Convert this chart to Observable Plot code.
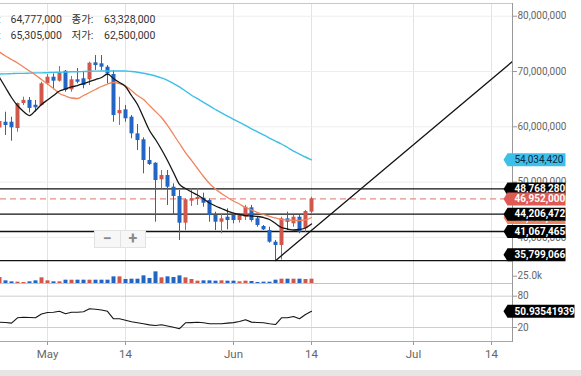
<!DOCTYPE html>
<html><head><meta charset="utf-8">
<script src="https://cdn.jsdelivr.net/npm/d3@7"></script>
<script src="https://cdn.jsdelivr.net/npm/@observablehq/plot@0.6"></script>
<style>
html,body{margin:0;padding:0;background:#fff;}
#wrap{position:relative;width:581px;height:376px;overflow:hidden;background:#fff;font-family:Roboto,"Noto Sans CJK KR",sans-serif;}
#wrap svg{position:absolute;left:0;}
.lg{position:absolute;font-size:10.5px;color:#333;line-height:12px;white-space:nowrap;}
#zoomctl{position:absolute;left:94px;top:230px;width:52px;height:18px;background:#f7f7f7;border:1px solid #e2e2e2;box-sizing:border-box;display:flex;}
#zoomctl div{flex:1;text-align:center;color:#8a8a8a;font-size:16px;font-weight:bold;line-height:15px;}
#zoomctl div:first-child{border-right:1px solid #e2e2e2;}
#band{position:absolute;left:0;top:370px;width:581px;height:6px;background:#e6e6e6;}
</style></head>
<body><div id="wrap"></div>
<script>
// ---------- data ----------
const dates = ["2021-04-23","2021-04-24","2021-04-25","2021-04-26","2021-04-27","2021-04-28","2021-04-29","2021-04-30",
"2021-05-01","2021-05-02","2021-05-03","2021-05-04","2021-05-05","2021-05-06","2021-05-07","2021-05-08","2021-05-09","2021-05-10",
"2021-05-11","2021-05-12","2021-05-13","2021-05-14","2021-05-15","2021-05-16","2021-05-17","2021-05-18","2021-05-19","2021-05-20",
"2021-05-21","2021-05-22","2021-05-23","2021-05-24","2021-05-25","2021-05-26","2021-05-27","2021-05-28","2021-05-29","2021-05-30",
"2021-05-31","2021-06-01","2021-06-02","2021-06-03","2021-06-04","2021-06-05","2021-06-06","2021-06-07","2021-06-08","2021-06-09",
"2021-06-10","2021-06-11","2021-06-12","2021-06-13","2021-06-14"];
// prices in millions of KRW
const openM  = [59.78,60.83,60.83,59.69,64.21,64.777,63.90,63.85,67.78,68.97,68.25,70.05,66.69,68.50,68.68,68.50,71.57,71.39,70.78,69.46,62.35,63.07,61.74,58.73,57.65,53.91,53.42,50.42,51.19,49.08,47.40,42.57,46.55,46.85,47.09,46.67,43.96,42.75,43.65,43.96,43.06,43.65,45.35,43.36,41.97,41.25,39.13,38.54,43.36,42.46,43.65,41.56,44.56];
const highM  = [61.86,62.64,61.74,64.30,65.35,65.305,64.76,68.07,69.46,69.58,70.90,70.18,69.10,70.54,69.87,71.68,72.89,72.89,71.08,70.18,65.35,63.85,62.04,60.42,58.01,56.31,53.50,52.10,52.10,49.69,48.48,46.98,48.79,48.84,48.00,46.98,44.56,44.27,45.17,44.27,44.30,45.77,45.77,43.65,42.15,41.84,39.44,43.65,44.56,43.96,43.96,44.86,47.27];
const lowM   = [59.15,58.43,57.40,59.02,63.85,62.50,62.64,63.70,67.47,66.69,68.07,66.26,66.26,67.78,66.87,67.47,70.18,70.18,67.78,60.83,60.24,60.83,57.83,55.71,51.50,53.00,42.75,48.79,45.77,43.96,39.44,41.25,45.59,45.77,45.46,42.75,41.25,40.65,41.37,42.46,42.60,43.06,42.75,41.84,41.25,38.95,35.799066,35.90,41.25,41.84,40.65,40.94,44.27];
const closeM = [60.96,60.24,59.82,64.21,64.78,63.328,63.44,67.78,68.97,68.25,69.69,66.56,68.50,68.07,67.47,71.50,71.08,70.78,69.58,62.04,62.95,61.45,58.73,57.52,53.91,53.18,50.29,51.19,49.08,47.40,42.57,46.80,46.98,47.22,46.18,43.96,42.75,43.36,43.06,43.06,43.96,45.46,43.06,42.15,41.37,39.13,38.54,43.36,42.75,43.65,40.94,44.68,46.952];
const volumeK = [20.5,9.1,5.7,4.6,3.4,5.7,9.1,19.4,9.1,5.7,5.7,11.4,11.4,11.4,11.4,11.4,11.4,11.4,11.4,22.8,22.8,13.7,14.8,14.8,26.2,17.1,39.9,19.4,22.8,20.5,26.2,19.4,13.7,8.0,9.1,9.1,8.0,9.1,8.0,8.0,5.7,8.0,6.8,3.4,4.6,4.6,11.4,14.8,14.8,14.8,14.8,13.7,14.8];
const maShortM = [68.92,67.11,65.30,63.85,62.77,62.04,62.95,64.03,64.85,65.66,66.47,66.84,67.20,67.47,67.83,68.19,68.55,68.92,69.55,68.73,68.01,67.29,65.66,64.03,61.68,59.33,57.70,55.90,53.91,51.74,49.57,48.84,48.21,47.67,46.94,46.22,45.68,45.23,44.77,44.41,44.14,43.96,43.87,43.78,43.60,43.24,42.51,41.79,41.52,41.34,41.43,41.70,42.42];
const maMidM = [73.53,72.80,72.17,71.54,70.81,70.09,69.37,68.55,67.74,66.93,66.02,65.57,65.21,65.12,65.66,66.20,66.75,67.29,67.74,68.01,67.83,67.38,66.56,65.66,64.94,63.85,62.77,61.68,60.24,58.61,56.98,55.35,53.91,52.46,51.01,49.75,48.75,47.94,47.22,46.58,46.04,45.41,44.96,44.50,44.14,43.78,43.51,43.24,43.15,43.06,43.06,43.15,43.60];
const maLongM = [69.55,69.58,69.62,69.66,69.67,69.71,69.75,69.76,69.80,69.84,69.87,69.91,69.95,69.96,70.00,70.04,70.07,70.09,70.09,70.09,70.09,70.09,70.00,69.87,69.69,69.46,69.19,68.84,68.41,67.83,67.22,66.47,65.71,65.08,64.43,63.78,63.13,62.50,61.92,61.36,60.78,60.24,59.64,59.10,58.52,57.97,57.43,56.89,56.26,55.62,55.08,54.54,54.03];
const rsi = [30.2,29.6,28.4,38.6,39.7,39.2,38.6,45.9,48.7,49.3,51.2,46.2,49.1,49.3,50.3,55.8,54.9,53.5,51.0,36.7,36.7,33.8,30.9,29.0,27.1,25.0,23.8,25.4,22.9,20.6,17.7,29.0,29.4,30.0,29.2,27.3,27.1,27.3,28.4,29.4,31.5,34.8,30.3,29.6,29.0,27.1,25.7,38.6,38.6,41.1,36.7,44.9,50.94];
const priceTicks = [40000000,50000000,60000000,70000000,80000000];
const levelLines = [41067465,44206472,48768280];
const lowLevel = [35799066];
const lastPrice = [46952000];
const maLongLast = [54034420];
const maMidLast = [43600000];
const rsiLast = [50.93541939];
const volumeTicks = [25000];
const rsiTicks = [20,80];
const tickDates = ["2021-05-01","2021-05-14","2021-06-01","2021-06-14","2021-07-01","2021-07-14"];
const tickLabels = ["May","14","Jun","14","Jul","14"];
const trendDates = ["2021-06-08","2021-07-18"];
const trendValues = [35799066,72280000];
const legendLabels = ["시가:","종가:","고가:","저가:"];
const legendValues = [64777000,63328000,65305000,62500000];

// ---------- build ----------
const parse = d3.utcParse("%Y-%m-%d");
const fmt = d3.format(",");
const M = 1e6;
const rows = dates.map((d,i)=>({date:parse(d),open:openM[i]*M,high:highM[i]*M,low:lowM[i]*M,close:closeM[i]*M,
  volume:volumeK[i]*1000,maS:maShortM[i]*M,maM:maMidM[i]*M,maL:maLongM[i]*M,rsi:rsi[i]}));
const ticks = tickDates.map(parse);
const tickMap = new Map(ticks.map((t,i)=>[+t,tickLabels[i]]));
const trend = trendDates.map((d,i)=>({date:parse(d),value:trendValues[i]}));
const up = d => d.close >= d.open;
const RED = "#d0574b", BLUE = "#2265c3";
const xDomain = [new Date(Date.UTC(2021,3,23,4)), new Date(Date.UTC(2021,6,17,12))];
const W = 581, MR = 69;
const baseStyle = {background:"transparent",overflow:"visible",fontFamily:"Roboto, sans-serif",fontSize:"10px",color:"#666"};

const boxSym = (w) => ({draw(ctx){ctx.moveTo(-9,0);ctx.lineTo(-5,-6.5);ctx.lineTo(w,-6.5);ctx.lineTo(w,6.5);ctx.lineTo(-5,6.5);ctx.closePath();}});
const label = (vals, fill, color, weight, w, dy=0, fmtFn=fmt) => [
  Plot.dot(vals, {y:d=>d, frameAnchor:"right", symbol:boxSym(w), r:5, fill, stroke:"none", dy}),
  Plot.text(vals, {y:d=>d, frameAnchor:"right", text:fmtFn, dx:2, dy, textAnchor:"start", fill:color, fontWeight:weight, fontSize:10})
];

const main = Plot.plot({
  width:W, height:263, marginTop:3, marginBottom:0, marginLeft:0, marginRight:MR,
  style:baseStyle,
  x:{type:"utc", domain:xDomain, axis:null, label:null},
  y:{domain:[35.28e6,82.3e6], axis:null, label:null},
  marks:[
    Plot.ruleX(ticks, {stroke:"#e3e3e3"}),
    Plot.ruleY(priceTicks, {stroke:"#ededed"}),
    Plot.axisY(priceTicks, {anchor:"right", label:null, tickFormat:fmt, tickSize:4, tickPadding:1, fontSize:10, stroke:"#999"}),
    Plot.ruleY(levelLines.concat(lowLevel), {stroke:"#111", strokeWidth:1.3}),
    Plot.ruleY(lastPrice, {stroke:"#e3908b", strokeWidth:1.2, strokeDasharray:"6,4"}),
    Plot.ruleX(rows, {filter:up, x:"date", y1:"low", y2:"high", stroke:RED, strokeWidth:1, clip:true}),
    Plot.ruleX(rows, {filter:d=>!up(d), x:"date", y1:"low", y2:"high", stroke:BLUE, strokeWidth:1, clip:true}),
    Plot.ruleX(rows, {filter:up, x:"date", y1:"open", y2:"close", stroke:RED, strokeWidth:4, clip:true}),
    Plot.ruleX(rows, {filter:d=>!up(d), x:"date", y1:"open", y2:"close", stroke:BLUE, strokeWidth:4, clip:true}),
    Plot.lineY(rows, {x:"date", y:"maL", stroke:"#3dbfe6", strokeWidth:1.4, curve:"monotone-x", clip:true}),
    Plot.lineY(rows, {x:"date", y:"maM", stroke:"#f0845c", strokeWidth:1.3, curve:"monotone-x", clip:true}),
    Plot.lineY(rows, {x:"date", y:"maS", stroke:"#151515", strokeWidth:1.3, curve:"monotone-x", clip:true}),
    Plot.line(trend, {x:"date", y:"value", stroke:"#151515", strokeWidth:1.3, clip:true}),
    Plot.frame({anchor:"top", stroke:"#c8c8c8"}),
    Plot.frame({anchor:"right", stroke:"#999"}),
    ...label(maLongLast, "#3cc0ea", "#0c2a44", "normal", 53),
    ...label(maMidLast, "#f0845c", "#fff", "bold", 53),
    ...label(lowLevel, "#000", "#fff", "bold", 53, -6),
    ...label(levelLines, "#000", "#fff", "bold", 53),
    ...label(lastPrice, "#de5a52", "#fff", "bold", 53)
  ]
});
main.style.top = "0px";

const vol = Plot.plot({
  width:W, height:20, marginTop:0, marginBottom:0, marginLeft:0, marginRight:MR,
  style:baseStyle,
  x:{type:"utc", domain:xDomain, axis:null, label:null},
  y:{domain:[0,68500], axis:null, label:null},
  marks:[
    Plot.ruleX(ticks, {stroke:"#e3e3e3"}),
    Plot.ruleX(rows, {filter:up, x:"date", y1:0, y2:"volume", stroke:RED, strokeWidth:4, clip:true}),
    Plot.ruleX(rows, {filter:d=>!up(d), x:"date", y1:0, y2:"volume", stroke:BLUE, strokeWidth:4, clip:true}),
    Plot.axisY(volumeTicks, {anchor:"right", label:null, tickFormat:d=>(d/1000).toFixed(1)+"k", tickSize:4, tickPadding:1, fontSize:10, stroke:"#999"}),
    Plot.frame({anchor:"right", stroke:"#999"})
  ]
});
vol.style.top = "263px";

const rsiPlot = Plot.plot({
  width:W, height:87, marginTop:0, marginBottom:29, marginLeft:0, marginRight:MR,
  style:baseStyle,
  x:{type:"utc", domain:xDomain, axis:null, label:null},
  y:{domain:[-6.8,104.3], axis:null, label:null},
  marks:[
    Plot.ruleX(ticks, {stroke:"#e3e3e3"}),
    Plot.ruleY(rsiTicks, {stroke:"#cfcfcf"}),
    Plot.lineY(rows, {x:"date", y:"rsi", stroke:"#151515", strokeWidth:1.1, clip:true}),
    Plot.axisY(rsiTicks, {anchor:"right", label:null, tickSize:4, tickPadding:1, fontSize:10, stroke:"#999"}),
    Plot.axisX(ticks, {label:null, tickFormat:d=>tickMap.get(+d), tickSize:4, tickPadding:4, fontSize:11.5, stroke:"#999"}),
    Plot.frame({anchor:"top", stroke:"#c4c4c4"}),
    Plot.frame({anchor:"bottom", stroke:"#a8a8a8"}),
    Plot.frame({anchor:"right", stroke:"#999"}),
    ...label(rsiLast, "#000", "#fff", "bold", 62, 0, d=>String(d))
  ]
});
rsiPlot.style.top = "283px";

const wrap = document.getElementById("wrap");
wrap.append(main, vol, rsiPlot);

// legend (OHLC readout)
const lgPos = [[-21,10.5,14],[71.5,104,14],[-21,10.5,30],[71.5,104,30]];
legendLabels.forEach((t,i)=>{
  const a=document.createElement("span"); a.className="lg"; a.textContent=t;
  a.style.left=lgPos[i][0]+"px"; a.style.top=lgPos[i][2]+"px"; wrap.append(a);
  const b=document.createElement("span"); b.className="lg"; b.textContent=fmt(legendValues[i]);
  b.style.left=lgPos[i][1]+"px"; b.style.top=lgPos[i][2]+"px"; wrap.append(b);
});
const zc=document.createElement("div"); zc.id="zoomctl";
zc.innerHTML="<div>−</div><div>+</div>"; wrap.append(zc);
const band=document.createElement("div"); band.id="band"; wrap.append(band);
</script></body></html>
